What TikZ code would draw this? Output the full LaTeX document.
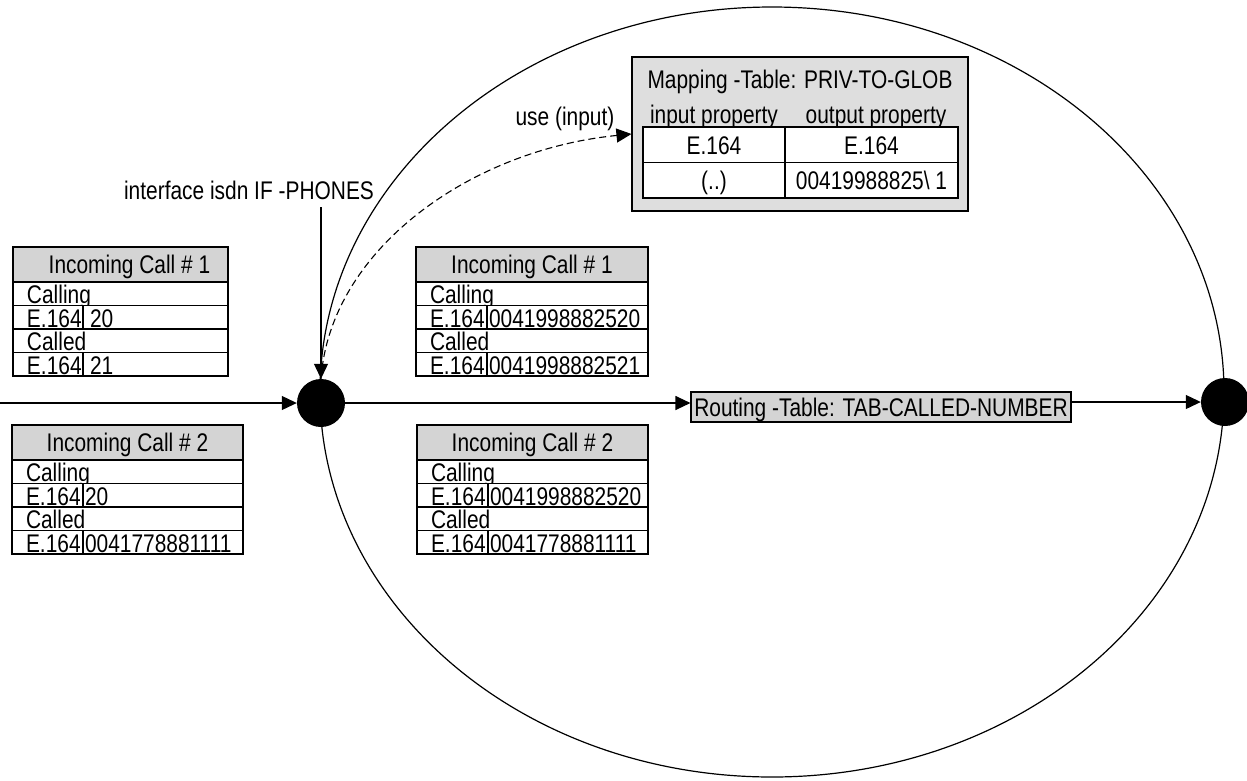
\documentclass[tikz,border=0pt]{standalone}
\usepackage{fontspec}
\setmainfont{Liberation Sans}[FakeStretch=0.82]
\usepackage{tikz}
\usetikzlibrary{arrows.meta,positioning,calc}
\definecolor{hdrgray}{HTML}{D4D4D4}
\definecolor{mapgray}{HTML}{DEDEDE}

% one "Incoming Call" table: name, x, y, width, first column, title, calling, called
\newcommand{\calltab}[8]{%
  \pgfmathsetmacro{\rowtw}{#4-28}
  \pgfmathsetmacro{\keytw}{#5-28}
  \pgfmathsetmacro{\numtw}{#4-#5-4}
  \node[hdr,minimum width=#4pt] (#1h) at (#2,#3) {#6};
  \node[cell,text width=\rowtw pt] (#1a) at (#1h.south west) {Calling};
  \node[cell,text width=\keytw pt] (#1b) at (#1a.south west) {E.164};
  \node[cell,num,text width=\numtw pt] (#1bn) at (#1b.north east) {#7};
  \node[cell,text width=\rowtw pt] (#1c) at (#1b.south west) {Called};
  \node[cell,text width=\keytw pt] (#1d) at (#1c.south west) {E.164};
  \node[cell,num,text width=\numtw pt] (#1dn) at (#1d.north east) {#8};
}

\begin{document}
\begin{tikzpicture}[x=1pt,y=-1pt,font=\fontsize{25.5}{27}\selectfont,
  arr/.style={line width=1.1pt,-{Triangle[length=15pt,width=14pt]}},
  lbl/.style={inner sep=0pt,text height=18.5pt,text depth=0pt},
  hdr/.style={draw,line width=1.1pt,fill=hdrgray,anchor=north west,outer sep=0pt,
    inner sep=0pt,minimum height=35pt,text height=18.5pt,text depth=0pt},
  cell/.style={draw,line width=1.1pt,fill=white,anchor=north west,outer sep=0pt,
    inner xsep=14pt,inner ysep=0pt,minimum height=23.5pt,text height=20.5pt,
    text depth=1pt,align=left},
  num/.style={inner xsep=2pt},
  mcell/.style={draw,line width=1.1pt,fill=white,anchor=north west,outer sep=0pt,
    inner sep=0pt,minimum height=35.5pt,text height=18.5pt,text depth=0pt},
  dot/.style={circle,fill=black,minimum size=48pt,inner sep=0pt}]
  \useasboundingbox (0,0) rectangle (1247,780);

  \draw[line width=1.2pt] (772,392) ellipse [x radius=452,y radius=385];

  % tables
  \calltab{ta}{13}{247}{215}{70}{\hspace*{18pt}Incoming Call \# 1}{\hspace*{5pt}20}{\hspace*{5pt}21}
  \calltab{tb}{12}{425}{231}{71}{Incoming Call \# 2}{20}{0041778881111}
  \calltab{tc}{416}{247}{232}{71}{Incoming Call \# 1}{0041998882520}{0041998882521}
  \calltab{td}{417}{425}{231}{71}{Incoming Call \# 2}{0041998882520}{0041778881111}

  % mapping table
  \node[draw,line width=1.1pt,fill=mapgray,minimum width=336pt,minimum height=154pt] (map) at (800,134) {};
  \node[lbl] (maptitle) at (800,79) {Mapping -Table: PRIV-TO-GLOB};
  \node[lbl] (inprop) at (714,114) {input property};
  \node[lbl] (outprop) at (876,114) {output property};
  \node[mcell,minimum width=142pt] (m1a) at (643,127) {E.164};
  \node[mcell,minimum width=173pt] (m1b) at (m1a.north east) {E.164};
  \node[mcell,minimum width=142pt] (m2a) at (m1a.south west) {(..)};
  \node[mcell,minimum width=173pt] (m2b) at (m2a.north east) {00419988825\textbackslash\ 1};

  \node[draw,line width=1.1pt,fill=hdrgray,minimum width=380pt,minimum height=30pt,
    inner sep=0pt,text height=18.5pt,text depth=0pt] (route) at (881,407) {Routing -Table: TAB-CALLED-NUMBER};

  \node[dot] (in) at (321,403) {};
  \node[dot] (out) at (1225,402) {};

  \coordinate (src) at (0,403);
  \coordinate (ifc) at (321,207);
  \node[lbl] (ifclbl) at (249,190) {interface isdn IF -PHONES};
  \node[lbl] (uselbl) at (565,116) {use (input)};

  \draw[arr] (src) -- (in);
  \draw[arr] (ifc) -- (in);
  \draw[arr] (in) -- (in -| route.west);
  \draw[arr] (out -| route.east) -- (out);
  \draw[arr,dash pattern=on 7pt off 4pt] (in.north) .. controls (330,250) and (470,150) .. (map.west);
\end{tikzpicture}
\end{document}
